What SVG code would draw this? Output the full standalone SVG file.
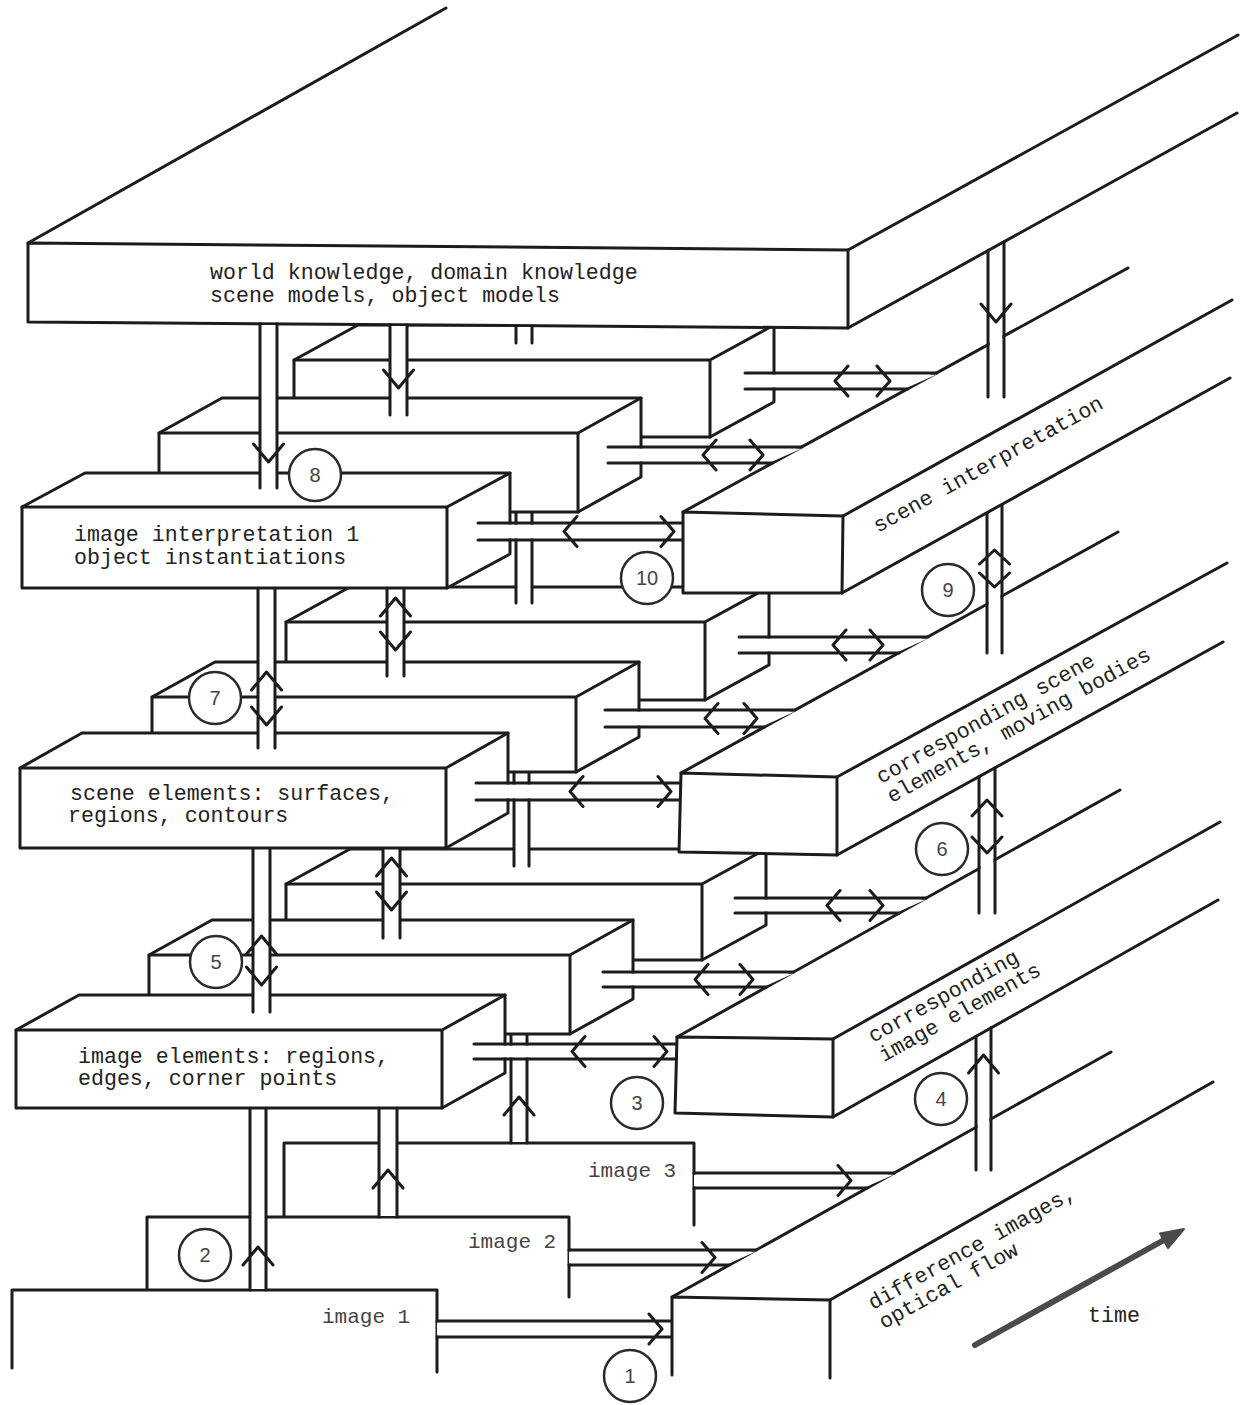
<svg xmlns="http://www.w3.org/2000/svg" width="1250" height="1405" viewBox="0 0 1250 1405">
<defs>
<style>
.ln{fill:none;stroke:#1c1c1c;stroke-width:3;stroke-linejoin:round;stroke-linecap:round}
.face{fill:#fff;stroke:#1c1c1c;stroke-width:3;stroke-linejoin:round}
.pw{fill:#fff;stroke:none}
.t{font-family:"Liberation Mono","Courier New",monospace;font-size:21.6px;fill:#222}
.tg{font-family:"Liberation Mono","Courier New",monospace;font-size:21px;fill:#444}
.circ{fill:#fff;stroke:#2a2a2a;stroke-width:2.5}
.num{font-family:"Liberation Sans",Arial,sans-serif;font-size:20px;fill:#444;text-anchor:middle}
.timearrow{fill:none;stroke:#4a4a4a;stroke-width:6;stroke-linecap:round}
</style>
</defs>
<rect width="1250" height="1405" fill="#fff"/>

<!-- receding edges of the long slabs -->
<g id="slab-edges">
<path class="ln" d="M28,243 L446,8 M848,250 L1238,35 M848,328 L1237,113"/>
<path class="ln" d="M683,512 L1128,268 M843,516 L1232,300 M842,593 L1230,378"/>
<path class="ln" d="M681,773 L1118,532 M837,777 L1227,563 M837,855 L1223,642"/>
<path class="ln" d="M677,1037 L1120,790 M833,1039 L1220,822 M833,1117 L1218,900"/>
<path class="ln" d="M672,1297 L1111,1052 M830,1300 L1213,1082"/>
</g>

<!-- time layer 3 (back) -->
<g id="image-interpretation-3">
<polygon class="face" points="294,437 294,360 358,325 774,325 774,402 710,437"/>
<path class="ln" d="M294,360 L710,360 L774,325 M710,360 L710,437"/>
</g>
<g id="scene-elements-3">
<polygon class="face" points="286,700 286,622 350,587 769,587 769,665 705,700"/>
<path class="ln" d="M286,622 L705,622 L769,587 M705,622 L705,700"/>
</g>
<g id="image-elements-3">
<polygon class="face" points="286,960 286,884 350,849 766,849 766,925 702,960"/>
<path class="ln" d="M286,884 L702,884 L766,849 M702,884 L702,960"/>
</g>
<g id="image-3">
<rect class="pw" x="284" y="1143" width="410" height="82"/>
<path class="ln" d="M284,1217 L284,1143 L694,1143 L694,1225"/>
<text class="tg" x="588" y="1177">image 3</text>
</g>

<g id="world-knowledge">
<polygon class="face" points="28,243 848,250 848,328 28,322"/>
<text class="t" x="210" y="279">world knowledge, domain knowledge</text>
<text class="t" x="210" y="302">scene models, object models</text>
</g>

<g id="connectors-t3">
<rect class="pw" x="516" y="327" width="16" height="16"/>
<path class="ln" d="M516,325.6 V343 M532,325.7 V343"/>
<rect class="pw" x="516" y="514" width="16" height="89"/>
<path class="ln" d="M516,513 V603 M532,513 V603"/>
<rect class="pw" x="514" y="774" width="15" height="92"/>
<path class="ln" d="M514,773 V866 M529,773 V866"/>
<rect class="pw" x="511" y="1036" width="16" height="106"/>
<path class="ln" d="M511,1035 V1143 M527,1035 V1143 M504,1115 L519,1097 L534,1115"/>
<polygon class="pw" points="745,374.5 936.6,374.5 907.5,387.5 745,387.5"/>
<path class="ln" d="M745,373 H936.6 M745,389 H907.5 M848,366 L835,381 L848,396 M877,366 L890,381 L877,396"/>
<polygon class="pw" points="739,638.5 928,638.5 899,651.5 739,651.5"/>
<path class="ln" d="M739,637 H928 M739,653 H899 M846,630 L833,645 L846,660 M870,630 L883,645 L870,660"/>
<polygon class="pw" points="735,899.5 926,899.5 899,911.5 735,911.5"/>
<path class="ln" d="M735,898 H926 M735,913 H899 M840,890.5 L827,905.5 L840,920.5 M870,890.5 L883,905.5 L870,920.5"/>
<polygon class="pw" points="694,1174.5 894,1174.5 867,1186.5 694,1186.5"/>
<path class="ln" d="M694,1173 H894 M694,1188 H867 M838,1165.5 L851,1180.5 L838,1195.5"/>
</g>

<!-- time layer 2 -->
<g id="image-interpretation-2">
<polygon class="face" points="159,512 159,433 222,398 641,398 641,477 578,512"/>
<path class="ln" d="M159,433 L578,433 L641,398 M578,433 L578,512"/>
</g>
<g id="scene-elements-2">
<polygon class="face" points="152,772 152,697 215,662 639,662 639,737 576,772"/>
<path class="ln" d="M152,697 L576,697 L639,662 M576,697 L576,772"/>
</g>
<g id="image-elements-2">
<polygon class="face" points="149,1034 149,955 212,920 633,920 633,999 570,1034"/>
<path class="ln" d="M149,955 L570,955 L633,920 M570,955 L570,1034"/>
</g>
<g id="image-2">
<rect class="pw" x="147" y="1217" width="422" height="80"/>
<path class="ln" d="M147,1290 L147,1217 L569,1217 L569,1297"/>
<text class="tg" x="468" y="1248">image 2</text>
</g>

<g id="connectors-t2">
<rect class="pw" x="390" y="326" width="17" height="89"/>
<path class="ln" d="M390,324.6 V415 M407,324.7 V415 M383.5,370 L398.5,388 L413.5,370"/>
<rect class="pw" x="387" y="514" width="17" height="162"/>
<path class="ln" d="M387,513 V676 M404,513 V676 M380.5,616 L395.5,598 L410.5,616 M380.5,632 L395.5,650 L410.5,632"/>
<rect class="pw" x="383" y="774" width="17" height="164"/>
<path class="ln" d="M383,773 V938 M400,773 V938 M376.5,876 L391.5,858 L406.5,876 M376.5,892 L391.5,910 L406.5,892"/>
<rect class="pw" x="379" y="1036" width="18" height="180"/>
<path class="ln" d="M379,1035 V1217 M397,1035 V1217 M373,1188 L388,1170 L403,1188"/>
<polygon class="pw" points="608,448.5 801.6,448.5 772.4,461.5 608,461.5"/>
<path class="ln" d="M608,447 H801.6 M608,463 H772.4 M716,440 L703,455 L716,470 M750,440 L763,455 L750,470"/>
<polygon class="pw" points="605,711.5 795,711.5 764.5,725.5 605,725.5"/>
<path class="ln" d="M605,710 H795 M605,727 H764.5 M718,703.5 L705,718.5 L718,733.5 M744,703.5 L757,718.5 L744,733.5"/>
<polygon class="pw" points="603,973.5 793.5,973.5 766.6,985.5 603,985.5"/>
<path class="ln" d="M603,972 H793.5 M603,987 H766.6 M708,964.5 L695,979.5 L708,994.5 M740,964.5 L753,979.5 L740,994.5"/>
<polygon class="pw" points="569,1251.5 756,1251.5 729,1263.5 569,1263.5"/>
<path class="ln" d="M569,1250 H756 M569,1265 H729 M702,1242.5 L715,1257.5 L702,1272.5"/>
</g>

<!-- time layer 1 (front) -->
<g id="image-interpretation-1">
<polygon class="face" points="22,588 22,507 85,473 510,473 510,554 447,588"/>
<path class="ln" d="M22,507 L447,507 L510,473 M447,507 L447,588"/>
<text class="t" x="74" y="541">image interpretation 1</text>
<text class="t" x="74" y="564">object instantiations</text>
</g>
<g id="scene-elements-1">
<polygon class="face" points="20,848 20,768 82,733 508,733 508,813 446,848"/>
<path class="ln" d="M20,768 L446,768 L508,733 M446,768 L446,848"/>
<text class="t" x="70" y="800">scene elements: surfaces,</text>
<text class="t" x="68" y="822">regions, contours</text>
</g>
<g id="image-elements-1">
<polygon class="face" points="16,1108 16,1030 79,995 505,995 505,1073 442,1108"/>
<path class="ln" d="M16,1030 L442,1030 L505,995 M442,1030 L442,1108"/>
<text class="t" x="78" y="1063">image elements: regions,</text>
<text class="t" x="78" y="1085">edges, corner points</text>
</g>
<g id="image-1">
<rect class="pw" x="12" y="1290" width="425" height="115"/>
<path class="ln" d="M12,1368 L12,1290 L437,1290 L437,1372"/>
<text class="tg" x="322" y="1323">image 1</text>
</g>

<g id="connectors-t1">
<rect class="pw" x="260" y="325" width="17" height="163"/>
<path class="ln" d="M260,323.7 V488 M277,323.8 V488 M253.5,444 L268.5,462 L283.5,444"/>
<rect class="pw" x="258" y="590" width="17" height="158"/>
<path class="ln" d="M258,589 V748 M275,589 V748 M251.5,690 L266.5,672 L281.5,690 M251.5,707 L266.5,725 L281.5,707"/>
<rect class="pw" x="253" y="850" width="17" height="162"/>
<path class="ln" d="M253,849 V1012 M270,849 V1012 M246.5,954 L261.5,936 L276.5,954 M246.5,967 L261.5,985 L276.5,967"/>
<rect class="pw" x="250" y="1110" width="16" height="179"/>
<path class="ln" d="M250,1109 V1290 M266,1109 V1290 M243,1265 L258,1247 L273,1265"/>
<rect class="pw" x="478" y="524.5" width="205" height="14"/>
<path class="ln" d="M478,523 H683 M478,540 H683 M577,516.5 L564,531.5 L577,546.5 M661,516.5 L674,531.5 L661,546.5"/>
<rect class="pw" x="476" y="784.5" width="204" height="14"/>
<path class="ln" d="M476,783 H680 M476,800 H680 M583,776.5 L570,791.5 L583,806.5 M658,776.5 L671,791.5 L658,806.5"/>
<rect class="pw" x="474" y="1045.5" width="202" height="12"/>
<path class="ln" d="M474,1044 H676 M474,1059 H676 M585,1036.5 L572,1051.5 L585,1066.5 M654,1036.5 L667,1051.5 L654,1066.5"/>
<rect class="pw" x="437" y="1322.5" width="235" height="13"/>
<path class="ln" d="M437,1321 H672 M437,1337 H672 M649,1314 L662,1329 L649,1344"/>
</g>

<!-- long slabs along time -->
<g id="scene-interpretation">
<polygon class="face" points="683,512 843,516 842,593 683,593"/>
<text class="t" transform="translate(878,533) rotate(-29)">scene interpretation</text>
</g>
<g id="corresponding-scene-elements">
<polygon class="face" points="681,773 837,777 837,855 679,852"/>
<text class="t" transform="translate(881,784) rotate(-29)"><tspan x="0" y="0">corresponding scene</tspan><tspan x="0" y="22">elements, moving bodies</tspan></text>
</g>
<g id="corresponding-image-elements">
<polygon class="face" points="677,1037 833,1039 833,1117 675,1113"/>
<text class="t" transform="translate(873,1043) rotate(-29)"><tspan x="0" y="0">corresponding</tspan><tspan x="0" y="22">image elements</tspan></text>
</g>
<g id="difference-images">
<polygon class="pw" points="672,1297 830,1300 830,1405 672,1405"/>
<path class="ln" d="M672,1375 L672,1297 L830,1300 L830,1378"/>
<text class="t" transform="translate(873,1310) rotate(-29)"><tspan x="0" y="0">difference images,</tspan><tspan x="0" y="22">optical flow</tspan></text>
</g>

<g id="connectors-right">
<polygon class="pw" points="989.5,252 1002.5,244.5 1002.5,397 989.5,397"/>
<path class="ln" d="M988,250.6 V397 M1004,241.7 V397 M981,304 L996,322 L1011,304"/>
<polygon class="pw" points="988.5,514.5 1000.5,507.5 1000.5,653 988.5,653"/>
<path class="ln" d="M987,513 V653 M1002,504.7 V653 M979.5,564 L994.5,550 L1009.5,564 M979.5,573 L994.5,587 L1009.5,573"/>
<polygon class="pw" points="980.5,778 993.5,771 993.5,913 980.5,913"/>
<path class="ln" d="M979,776.6 V913 M995,767.8 V913 M972,816 L987,800 L1002,816 M972,837 L987,853 L1002,837"/>
<polygon class="pw" points="977.5,1038 989.5,1031 989.5,1170 977.5,1170"/>
<path class="ln" d="M976,1036.3 V1170 M991,1027.8 V1170 M968.5,1073 L983.5,1055 L998.5,1073"/>
</g>

<g id="step-numbers">
<circle class="circ" cx="630" cy="1376" r="26"/><text class="num" x="630" y="1383">1</text>
<circle class="circ" cx="205" cy="1255" r="26"/><text class="num" x="205" y="1262">2</text>
<circle class="circ" cx="637" cy="1103" r="26"/><text class="num" x="637" y="1110">3</text>
<circle class="circ" cx="941" cy="1099" r="26"/><text class="num" x="941" y="1106">4</text>
<circle class="circ" cx="216" cy="962" r="26"/><text class="num" x="216" y="969">5</text>
<circle class="circ" cx="942" cy="849" r="26"/><text class="num" x="942" y="856">6</text>
<circle class="circ" cx="215" cy="698" r="26"/><text class="num" x="215" y="705">7</text>
<circle class="circ" cx="315" cy="475" r="26"/><text class="num" x="315" y="482">8</text>
<circle class="circ" cx="948" cy="590" r="26"/><text class="num" x="948" y="597">9</text>
<circle class="circ" cx="647" cy="578" r="26"/><text class="num" x="647" y="585">10</text>
</g>

<g id="time-axis">
<path class="timearrow" d="M975,1345 L1164,1240"/>
<polygon points="1184,1229 1160,1233.5 1168,1248" fill="#4a4a4a" stroke="#4a4a4a" stroke-width="2" stroke-linejoin="round"/>
<text class="t" x="1088" y="1322">time</text>
</g>
</svg>
